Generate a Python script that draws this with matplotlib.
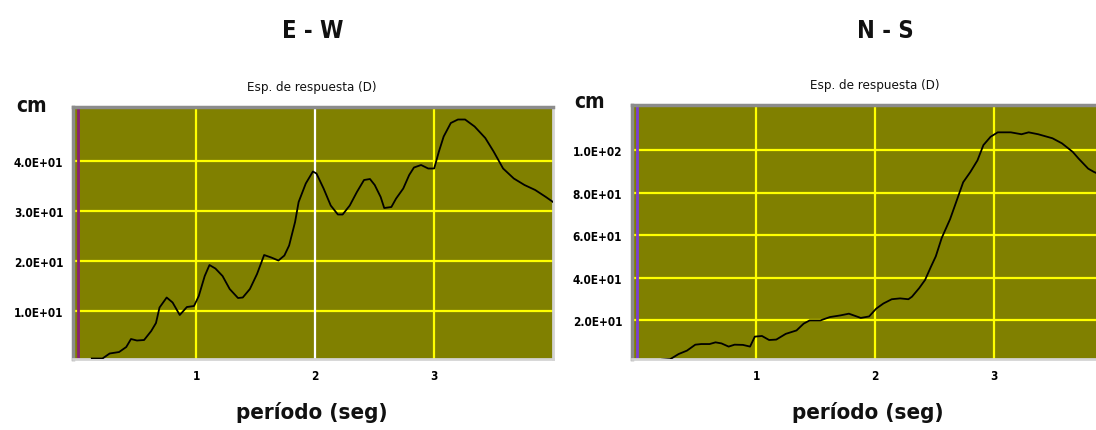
import matplotlib
matplotlib.use("Agg")
import matplotlib.pyplot as plt
from matplotlib import font_manager

# datos: espectro de respuesta de desplazamiento (cm)
periodo_ew = [0.12, 0.21, 0.27, 0.35, 0.41, 0.45, 0.50, 0.56, 0.62, 0.66, 0.69, 0.75,
              0.80, 0.86, 0.92, 0.98, 1.02, 1.07, 1.11, 1.16, 1.22, 1.28, 1.35, 1.39,
              1.45, 1.51, 1.57, 1.63, 1.69, 1.74, 1.78, 1.83, 1.86, 1.92, 1.98, 2.01,
              2.07, 2.13, 2.19, 2.23, 2.29, 2.35, 2.41, 2.46, 2.50, 2.55, 2.58, 2.64,
              2.68, 2.74, 2.79, 2.83, 2.89, 2.95, 3.00, 3.04, 3.08, 3.14, 3.20, 3.26,
              3.34, 3.43, 3.50, 3.58, 3.67, 3.76, 3.85, 3.94, 4.00]
desp_ew = [0.5, 0.5, 1.5, 1.8, 2.8, 4.4, 4.1, 4.2, 6.0, 7.6, 10.7, 12.7,
           11.7, 9.2, 10.8, 11.0, 13.0, 17.0, 19.2, 18.5, 17.0, 14.4, 12.6, 12.7,
           14.4, 17.4, 21.2, 20.7, 20.1, 21.1, 23.1, 27.8, 31.8, 35.5, 37.9, 37.5,
           34.5, 31.1, 29.3, 29.3, 31.1, 33.8, 36.2, 36.4, 35.2, 32.8, 30.6, 30.8,
           32.5, 34.5, 37.2, 38.7, 39.2, 38.5, 38.5, 41.9, 44.9, 47.6, 48.3, 48.3,
           46.9, 44.6, 41.9, 38.5, 36.5, 35.2, 34.2, 32.8, 31.8]

periodo_ns = [0.21, 0.28, 0.35, 0.42, 0.49, 0.54, 0.61, 0.66, 0.71, 0.77, 0.82, 0.89,
              0.95, 0.99, 1.05, 1.11, 1.17, 1.25, 1.34, 1.40, 1.45, 1.54, 1.62, 1.71,
              1.78, 1.82, 1.88, 1.95, 2.01, 2.07, 2.14, 2.21, 2.28, 2.31, 2.37, 2.42,
              2.47, 2.51, 2.56, 2.63, 2.68, 2.74, 2.80, 2.86, 2.91, 2.97, 3.03, 3.14,
              3.23, 3.29, 3.37, 3.49, 3.57, 3.66, 3.71, 3.79, 3.84, 3.95]
desp_ns = [1.3, 1.6, 4.0, 5.6, 8.4, 8.7, 8.7, 9.5, 9.0, 7.5, 8.4, 8.3,
           7.5, 12.2, 12.5, 10.6, 10.8, 13.5, 15.1, 18.3, 19.8, 19.8, 21.4, 22.2,
           23.0, 22.2, 21.0, 21.7, 25.4, 27.8, 29.8, 30.2, 29.8, 31.0, 35.0, 38.9,
           45.2, 50.0, 58.7, 67.5, 75.4, 84.9, 89.7, 95.2, 102.4, 106.3, 108.4, 108.4,
           107.5, 108.4, 107.5, 105.6, 103.2, 99.2, 96.0, 91.3, 89.7, 87.0]

xticks = [1, 2, 3]
yticks_ew = [10, 20, 30, 40]
yticks_ns = [20, 40, 60, 80, 100]

OLIVA = "#808000"
AMAR = "#ffff00"
FAM = "DejaVu Sans"
COND = "condensed"

fig = plt.figure(figsize=(10.96, 4.31), dpi=100)


def panel(rect, x, y, yticks, ylim, xlim, linea0, blanca=None):
    ax = fig.add_axes(rect)
    ax.set_facecolor(OLIVA)
    for t in yticks:
        ax.axhline(t, color=AMAR, lw=1.6, zorder=1)
    for t in xticks:
        c = "white" if t == blanca else AMAR
        ax.axvline(t, color=c, lw=1.6, zorder=1)
    ax.axvline(0, color=linea0, lw=2, zorder=2)
    ax.plot(x, y, color="black", lw=1.3, zorder=3)
    ax.set_xlim(*xlim)
    ax.set_ylim(*ylim)
    ax.set_xticks(xticks)
    ax.set_xticklabels([str(t) for t in xticks])
    ax.set_yticks(yticks)
    ax.set_yticklabels(["%.1fE+%02d" % (t / 10 ** len(str(t)[1:]), len(str(t)) - 1) for t in yticks])
    ax.tick_params(length=0, labelsize=8.5, pad=7)
    for lab in ax.get_xticklabels() + ax.get_yticklabels():
        lab.set_fontstretch(COND)
        lab.set_fontweight("semibold")
    for s in ["top", "left"]:
        ax.spines[s].set_color("#8c8c8c")
        ax.spines[s].set_linewidth(2.5)
    for s in ["bottom", "right"]:
        ax.spines[s].set_color("#d4d4d4")
        ax.spines[s].set_linewidth(2)
    return ax


ax1 = panel([0.0666, 0.1647, 0.438, 0.5847], periodo_ew, desp_ew, yticks_ew,
            (0.4, 50.8), (-0.038, 4.0), "#8a1f70", blanca=2)
ax2 = panel([0.5766, 0.1647, 0.438, 0.589], periodo_ns, desp_ns, yticks_ns,
            (1.65, 121.2), (-0.042, 3.99), "#7b3fd6")

# textos
kw = dict(family=FAM, fontstretch=COND, ha="center", va="center", color="#111111")
fig.text(313 / 1096, 1 - 31 / 431, "E - W", weight="bold", fontsize=17, **kw)
fig.text(885 / 1096, 1 - 31 / 431, "N - S", weight="bold", fontsize=17, **kw)
fig.text(312 / 1096, 1 - 88 / 431, "Esp. de respuesta (D)", fontsize=9.5, **kw)
fig.text(875 / 1096, 1 - 86 / 431, "Esp. de respuesta (D)", fontsize=9.5, **kw)
fig.text(32 / 1096, 1 - 106 / 431, "cm", weight="bold", fontsize=15, **kw)
fig.text(590 / 1096, 1 - 102 / 431, "cm", weight="bold", fontsize=15, **kw)
fig.text(312 / 1096, 1 - 413 / 431, "período (seg)", weight="bold", fontsize=16, **kw)
fig.text(868 / 1096, 1 - 413 / 431, "período (seg)", weight="bold", fontsize=16, **kw)

fig.savefig("out.png", dpi=100)
